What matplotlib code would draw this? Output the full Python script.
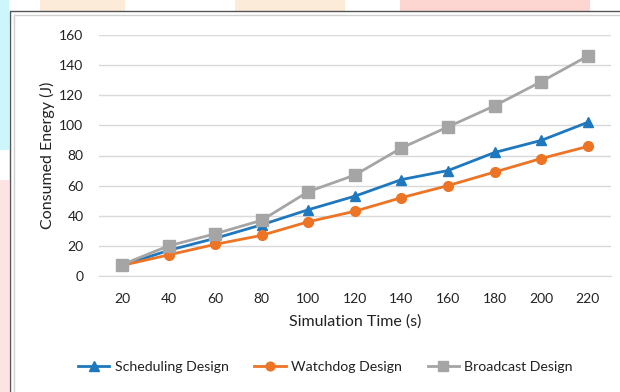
import matplotlib
matplotlib.use("Agg")
import matplotlib.pyplot as plt
from matplotlib.patches import Rectangle
from matplotlib.lines import Line2D

plt.rcParams['font.family'] = ['Lato', 'DejaVu Sans']

sim_time = [20, 40, 60, 80, 100, 120, 140, 160, 180, 200, 220]
scheduling = [7, 17, 25, 34, 44, 53, 64, 70, 82, 90, 102]
watchdog = [7, 14, 21, 27, 36, 43, 52, 60, 69, 78, 86]
broadcast = [7.5, 20, 28, 37, 56, 67, 85, 99, 113, 129, 146]
y_ticks = [0, 20, 40, 60, 80, 100, 120, 140, 160]

W, H = 620, 392
fig = plt.figure(figsize=(W / 100, H / 100), dpi=100)

def box(x0, y0, x1, y1, color):
    # pixel coordinates, origin top-left
    fig.patches.append(Rectangle((x0 / W, 1 - y1 / H), (x1 - x0) / W, (y1 - y0) / H,
                                 transform=fig.transFigure, color=color, lw=0, zorder=-2))

# decorative page background around the chart frame
box(0, 0, 9, 150, '#cdf6fb')
box(0, 180, 9, 392, '#fde3e3')
box(40, 0, 125, 11, '#fdebd9')
box(235, 0, 345, 11, '#fdebd9')
box(400, 0, 590, 11, '#fdd6d2')

# chart frame (double border)
fig.add_artist(Line2D([10 / W, 10 / W, 1], [0, 1 - 11 / H, 1 - 11 / H],
                      transform=fig.transFigure, color='#555555', lw=1.0, zorder=-1))
fig.add_artist(Line2D([14 / W, 14 / W, 1], [0, 1 - 15 / H, 1 - 15 / H],
                      transform=fig.transFigure, color='#d0d0d0', lw=1.0, zorder=-1))

ax = fig.add_axes([98.7 / W, 1 - 276 / H, (611 - 98.7) / W, (276 - 35) / H])
ax.set_zorder(5)
ax.set_facecolor('none')
x = list(range(len(sim_time)))

ax.plot(x, scheduling, color='#1f78bd', lw=2.0, marker='^', ms=7.5,
        label='Scheduling Design', zorder=3)
ax.plot(x, watchdog, color='#ed7425', lw=2.0, marker='o', ms=7,
        label='Watchdog Design', zorder=3)
ax.plot(x, broadcast, color='#a5a5a5', lw=2.0, marker='s', ms=8,
        label='Broadcast Design', zorder=3)

ax.set_xlim(-0.5, len(sim_time) - 0.5)
ax.set_ylim(0, 160)
ax.set_yticks(y_ticks)
ax.set_xticks(x)
ax.set_xticklabels([str(v) for v in sim_time])
ax.yaxis.grid(True, color='#d9d9d9', lw=1.0)
ax.set_axisbelow(True)
for s in ['top', 'right', 'left']:
    ax.spines[s].set_visible(False)
ax.spines['bottom'].set_color('#d9d9d9')
ax.tick_params(axis='both', length=0, labelsize=10, colors='#222222')
ax.tick_params(axis='x', pad=12)
ax.tick_params(axis='y', pad=11)

ax.set_xlabel('Simulation Time (s)', fontsize=11.5, color='#222222', labelpad=7)
ax.set_ylabel('Consumed Energy (J)', fontsize=11.5, color='#222222', labelpad=3)

leg = ax.legend(loc='center', bbox_to_anchor=(0.525, 1 - 367 / H), bbox_transform=fig.transFigure,
                ncol=3, frameon=False, fontsize=10.2, handlelength=2.2, columnspacing=1.8,
                handletextpad=0.4, markerscale=0.9)
for t in leg.get_texts():
    t.set_color('#222222')

fig.savefig('out.png', dpi=100)
